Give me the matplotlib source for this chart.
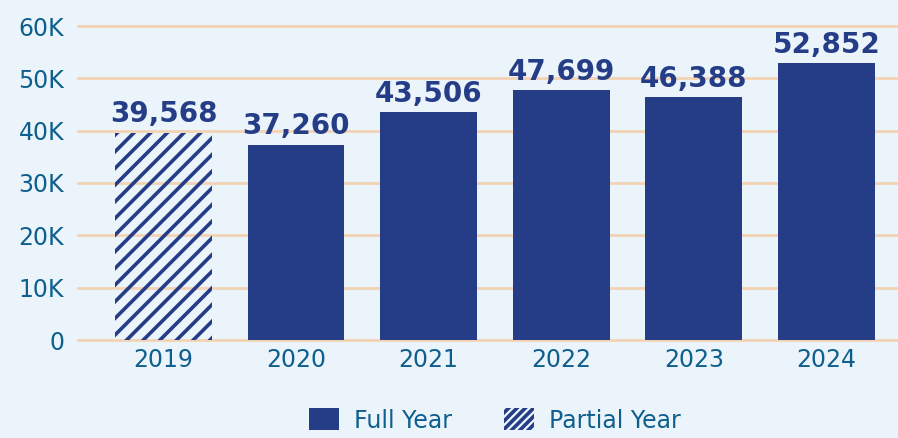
"""Yearly totals bar chart, 2019 partial year hatched."""

import matplotlib.pyplot as plt
from matplotlib.patches import Patch
from matplotlib.ticker import FuncFormatter

years = ["2019", "2020", "2021", "2022", "2023", "2024"]
totals = [39568, 37260, 43506, 47699, 46388, 52852]
partial = [True, False, False, False, False, False]
y_ticks = [0, 10000, 20000, 30000, 40000, 50000, 60000]

BG = "#EBF4FB"
NAVY = "#253D87"
TEXT = "#0F5F8E"
GRID = "#F3D3B5"

plt.rcParams["hatch.linewidth"] = 2.6

fig = plt.figure(figsize=(8.98, 4.38), dpi=100, facecolor=BG)
ax = fig.add_axes([78 / 898, 1 - 340 / 438, 1 - 78 / 898, (340 - 26) / 438])
ax.set_facecolor(BG)

x = list(range(len(years)))
for xi, val, part in zip(x, totals, partial):
    if part:
        ax.bar(xi, val, width=0.73, facecolor="none", edgecolor=NAVY,
               hatch="//", linewidth=0, zorder=3)
    else:
        ax.bar(xi, val, width=0.73, color=NAVY, linewidth=0, zorder=3)
    ax.text(xi, val + 900, f"{val:,}", ha="center", va="bottom",
            fontsize=20, fontweight="bold", color=NAVY, zorder=4)

ax.set_xlim(-0.645, 5.54)
ax.set_ylim(0, 60000)
ax.set_xticks(x, years)
ax.set_yticks(y_ticks)
ax.yaxis.set_major_formatter(
    FuncFormatter(lambda v, _: "0" if v == 0 else f"{int(v / 1000)}K"))
ax.tick_params(axis="both", length=0, labelsize=17, labelcolor=TEXT)
ax.tick_params(axis="y", pad=10)
ax.tick_params(axis="x", pad=6)
ax.grid(axis="y", color=GRID, linewidth=2)
ax.set_axisbelow(True)
for gl in ax.get_ygridlines():
    gl.set_clip_on(False)
for s in ax.spines.values():
    s.set_visible(False)

handles = [
    Patch(facecolor=NAVY, edgecolor=NAVY, linewidth=0, label="Full Year"),
    Patch(facecolor="none", edgecolor=NAVY, hatch="////", linewidth=0,
          label="Partial Year"),
]
leg = fig.legend(handles=handles, loc="center", bbox_to_anchor=(0.551, 0.04),
                 ncol=2, frameon=False, fontsize=17, handlelength=1.27,
                 handleheight=1.06, handletextpad=0.64, columnspacing=2.2)
for t in leg.get_texts():
    t.set_color(TEXT)

fig.savefig("out.png", dpi=100, facecolor=BG)
